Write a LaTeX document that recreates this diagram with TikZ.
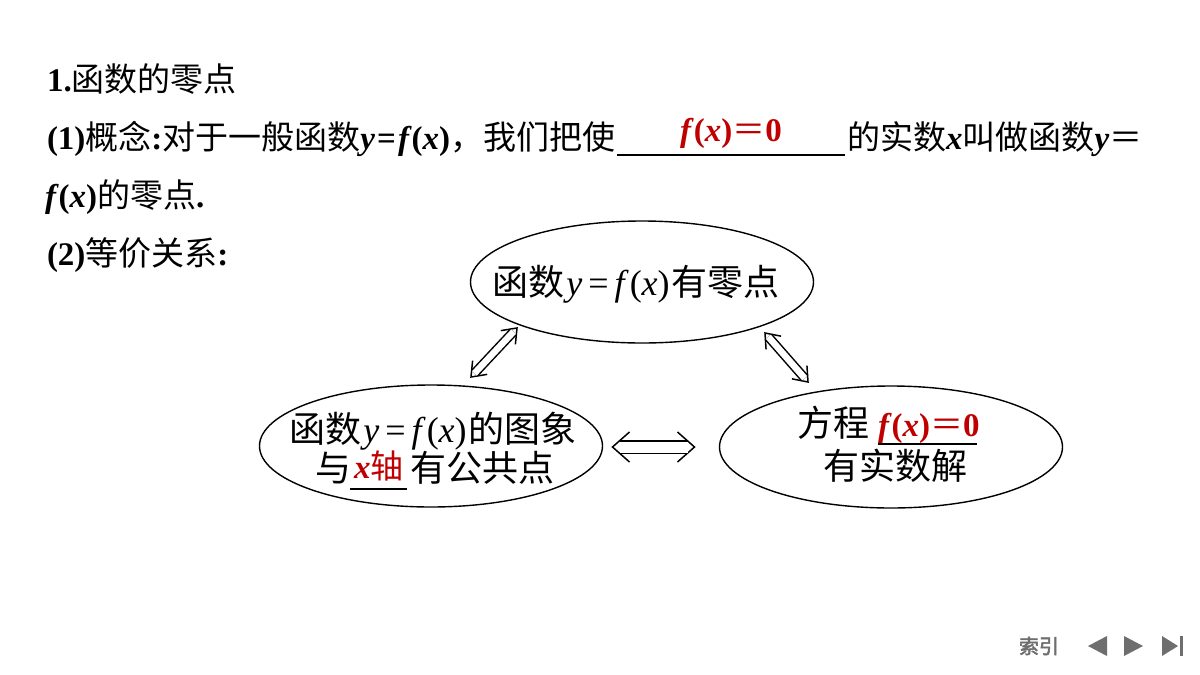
\documentclass[tikz,border=0pt]{standalone}
\usepackage{fontspec}
\setmainfont{Liberation Serif}
\newfontfamily\cjk{Noto Sans CJK SC}
\newfontfamily\cjknav{Noto Sans CJK SC}[AutoFakeBold=2.5]
\usetikzlibrary{arrows.meta,shapes.geometric,calc}
\definecolor{dred}{RGB}{192,0,0}
\definecolor{navgray}{RGB}{110,110,110}
\newcommand\zh[1]{{\cjk #1}}
\tikzset{
  every node/.style={inner sep=0pt,outer sep=0pt},
  body/.style={anchor=base west,font=\fontsize{33}{40}\selectfont},
  etext/.style={anchor=base,font=\fontsize{36}{42}\selectfont},
  redtext/.style={text=dred,font=\fontsize{33}{40}\selectfont},
  oval/.style={draw,ellipse,line width=1.4pt,minimum width=343pt,minimum height=122pt},
  shaft/.style={double,line width=1.5pt},
  barb/.style={line width=1.5pt,line join=miter},
  uline/.style={line width=1.6pt},
  navtri/.style={fill=navgray,draw=none}
}
% hollow double arrow between two named coordinates
% #1,#2 ends; #3 head length; #4 head half-width; #5 gap between the two lines; #6 shaft inset
\newcommand\hollowarrow[6]{%
  \draw[barb] ($($(#2)!#3!(#1)$)!#4!90:(#2)$) -- (#2) -- ($($(#2)!#3!(#1)$)!#4!-90:(#2)$);
  \draw[barb] ($($(#1)!#3!(#2)$)!#4!90:(#1)$) -- (#1) -- ($($(#1)!#3!(#2)$)!#4!-90:(#1)$);
  \draw[shaft,double distance=#5] ($(#1)!#6!(#2)$) -- ($(#2)!#6!(#1)$);
}
\begin{document}
\begin{tikzpicture}[x=1pt,y=-1pt]
\useasboundingbox[fill=white] (0,0) rectangle (1200,675);
% text lines
\node[body] (l1) at (47,91) {\textbf{1.}\zh{函数的零点}};
\node[body] (l2a) at (47,149) {\textbf{(1)}\zh{概念}\textbf{:}\zh{对于一般函数}\textbf{\textit{y}\kern2pt=\kern2pt\textit{f}(\textit{x})}\zh{，我们把使}};
\draw[uline] (617,155) -- (845,155);
\node[body,anchor=base,text=dred] (ans1) at (731,141) {\textbf{\textit{f}(\textit{x})}\zh{＝}\textbf{0}};
\node[body] (l2b) at (847,149) {\zh{的实数}\textbf{\textit{x}}\zh{叫做函数}\textbf{\textit{y}}\zh{＝}};
\node[body] (l3) at (45,207) {\textbf{\textit{f}(\textit{x})}\zh{的零点}\textbf{.}};
\node[body] (l4) at (47,265) {\textbf{(2)}\zh{等价关系}\textbf{:}};
% ellipses
\node[oval] (T) at (642,282) {};
\node[oval] (L) at (431,446) {};
\node[oval] (R) at (891,447) {};
% ellipse texts
\node[etext] (tt) at (636,295) {\zh{函数}\kern2pt\textit{y}\,=\,\textit{f}\kern1pt(\textit{x})\kern2pt\zh{有零点}};
\node[etext] (lt1) at (433,442) {\zh{函数}\kern2pt\textit{y}\,=\,\textit{f}\kern1pt(\textit{x})\kern2pt\zh{的图象}};
\node[etext,anchor=base west] (lt2a) at (315,481) {\zh{与}};
\node[redtext,anchor=base west] (lt2b) at (354,478) {\textbf{\textit{x}}\zh{轴}};
\node[etext,anchor=base west] (lt2c) at (410,481) {\zh{有公共点}};
\draw[uline] (350,489) -- (407,489);
\node[etext,anchor=base west] (rt1a) at (797,436) {\zh{方程}};
\node[redtext,anchor=base west] (rt1b) at (878,436) {\textbf{\textit{f}(\textit{x})}\zh{＝}\textbf{0}};
\draw[uline] (878,444) -- (977,444);
\node[etext] (rt2) at (895,479) {\zh{有实数解}};
% arrows
\coordinate (a1s) at ($(L.center)+(40,-69)$);
\coordinate (a1e) at ($(T.center)+(-125,46)$);
\coordinate (a2s) at ($(T.center)+(123,51)$);
\coordinate (a2e) at ($(R.center)+(-83,-65)$);
\coordinate (h1) at ($(L.east)+(10,1)$);
\coordinate (h2) at ($(R.west)+(-25,0)$);
\hollowarrow{a1s}{a1e}{13pt}{10pt}{6.5pt}{5pt}
\hollowarrow{a2s}{a2e}{13pt}{10pt}{6.5pt}{5pt}
\hollowarrow{h1}{h2}{17pt}{15pt}{11pt}{7pt}
% navigation
\node[anchor=center,text=navgray,font=\cjknav\bfseries\fontsize{20}{22}\selectfont] (nav) at (1039,646) {索引};
\fill[navtri] (1088,646) -- (1107,636) -- (1107,656) -- cycle;
\fill[navtri] (1143,646) -- (1124,636) -- (1124,656) -- cycle;
\fill[navtri] (1178,646) -- (1162,636) -- (1162,656) -- cycle;
\fill[navtri] (1180,636) rectangle (1183,656);
\end{tikzpicture}
\end{document}
